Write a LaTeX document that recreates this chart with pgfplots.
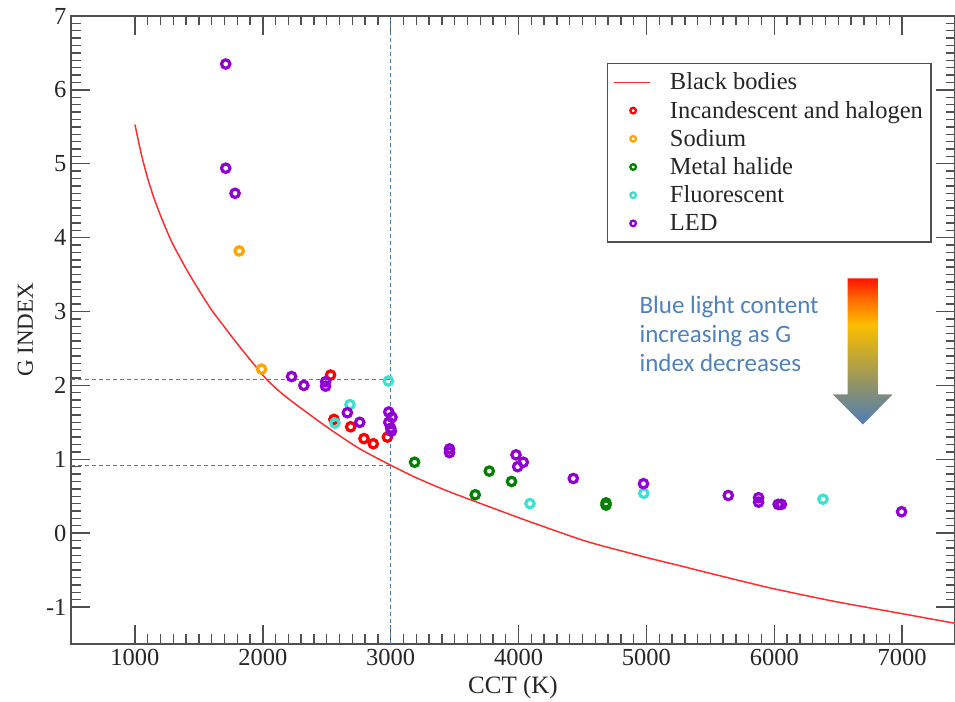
\documentclass[border=0pt]{standalone}
\usepackage{pgfplots}
\pgfplotsset{compat=1.18}
\usepackage{pgfplotstable}
\usetikzlibrary{calc}
\usepackage{fontspec}
\setmainfont{Liberation Serif}
\newfontfamily\carlito{Carlito}

\definecolor{dashblue}{RGB}{70,125,195}
\definecolor{frame}{RGB}{80,80,80}
\definecolor{bbred}{RGB}{255,45,45}
\definecolor{cInc}{RGB}{255,0,0}
\definecolor{cSod}{RGB}{255,165,0}
\definecolor{cMet}{RGB}{0,128,0}
\definecolor{cFlu}{RGB}{64,224,208}
\definecolor{cLED}{RGB}{145,0,210}
\definecolor{txtblue}{RGB}{79,129,189}

\definecolor{aBlue}{RGB}{80,125,185}
\definecolor{aGray}{RGB}{125,140,125}
\definecolor{aOlive}{RGB}{190,165,55}
\definecolor{aYellow}{RGB}{250,190,0}
\definecolor{aOrange}{RGB}{255,110,0}
\definecolor{aRed}{RGB}{255,20,0}

\pgfdeclareverticalshading{arrowshade}{100bp}{%
 color(0bp)=(aBlue);
 color(25bp)=(aBlue);
 color(35bp)=(aGray);
 color(47.5bp)=(aOlive);
 color(59bp)=(aYellow);
 color(67.5bp)=(aOrange);
 color(75bp)=(aRed);
 color(100bp)=(aRed)}

\pgfplotsset{
  bblegend/.style={legend image code/.code={\draw[##1] (0pt,0pt) -- (36pt,0pt);}},
  scatlegend/.style={legend image code/.code={\path[draw=none,fill=none] (0pt,0pt) -- (36pt,0pt);\draw[##1, mark size=2.8pt, line width=2.3pt] plot coordinates {(19pt,0pt)};}},
  scat/.style={only marks, mark=o, mark size=4.2pt, line width=3.2pt, color=#1, scatlegend},
}

\pgfplotstableread{
x y
1000 5.53
1050 5.13
1100 4.80
1150 4.53
1200 4.30
1250 4.09
1300 3.90
1400 3.58
1500 3.29
1600 3.02
1700 2.79
1800 2.565
1900 2.35
2020 2.10
2112 1.945
2230 1.78
2490 1.45
2750 1.15
3000 0.92
3200 0.75
3430 0.58
3690 0.41
4080 0.16
4475 -0.08
4630 -0.16
4870 -0.27
5000 -0.33
5260 -0.44
5420 -0.51
5700 -0.63
5990 -0.75
6460 -0.92
7000 -1.09
7413 -1.22
}\blackbody

\pgfplotstableread{
x y
2530 2.14
2556 1.54
2687 1.44
2791 1.28
2864 1.21
2974 1.30
}\incand

\pgfplotstableread{
x y
1815 3.82
1990 2.22
}\sodium

\pgfplotstableread{
x y
3187 0.96
3771 0.84
3661 0.52
3945 0.70
4684 0.41
4684 0.38
}\metal

\pgfplotstableread{
x y
2982 2.06
2682 1.74
2564 1.49
4089 0.40
4979 0.54
6381 0.46
}\fluor

\pgfplotstableread{
x y
1710 6.35
1710 4.94
1783 4.60
2225 2.12
2321 2.00
2491 1.99
2491 2.05
2661 1.63
2758 1.50
2985 1.64
3010 1.57
2985 1.50
3000 1.42
3005 1.38
3460 1.09
3460 1.14
3980 1.06
4037 0.96
3993 0.90
4428 0.74
4977 0.67
5640 0.51
5877 0.42
5877 0.48
6030 0.39
6055 0.39
6995 0.29
}\led

\begin{document}
\begin{tikzpicture}
\begin{axis}[
  scale only axis,
  width=884pt, height=628pt,
  xmin=500, xmax=7413, ymin=-1.5, ymax=7,
  axis line style={frame, line width=1.6pt},
  tick align=inside,
  /pgf/number format/assume math mode=true,
  /pgf/number format/1000 sep={},
  xtick={1000,2000,3000,4000,5000,6000,7000},
  ytick={-1,0,1,2,3,4,5,6,7},
  xticklabel={\textrm{\fontsize{24.5}{28}\selectfont\pgfmathprintnumber[assume math mode=true]{\tick}}},
  yticklabel={\textrm{\fontsize{24.5}{28}\selectfont\pgfmathprintnumber[assume math mode=true]{\tick}}},
  minor x tick num=9, minor y tick num=9,
  major tick length=19pt, minor tick length=9.5pt,
  every tick/.style={frame, line width=1.4pt},
  tick label style={font=\fontsize{24.5}{28}\selectfont, text=black!85},
  xticklabel style={yshift=-2pt},
  yticklabel style={xshift=-1pt},
  xlabel={CCT (K)}, ylabel={G INDEX},
  xlabel style={font=\fontsize{25}{28}\selectfont, text=black!85, yshift=-3pt},
  ylabel style={font=\fontsize{23}{28}\selectfont, text=black!85, yshift=6pt},
  clip=false,
  legend cell align=left,
  legend style={at={(rel axis cs:0.606,0.925)}, anchor=north west,
    draw=frame, line width=1.4pt, inner xsep=6pt, inner ysep=4.5pt,
    font=\fontsize{24.5}{28}\selectfont, row sep=0pt, column sep=17pt,
    nodes={text=black!85, text height=19pt, text depth=4pt, inner ysep=2.6pt}},
]
\addplot[dashblue, line width=1.2pt, dash pattern=on 4pt off 3pt, forget plot] coordinates {(500,2.08) (3000,2.08)};
\addplot[dashblue, line width=1.2pt, dash pattern=on 4pt off 3pt, forget plot] coordinates {(500,0.92) (3000,0.92)};
\addplot[dashblue, line width=1.2pt, dash pattern=on 4pt off 3pt, forget plot] coordinates {(3000,-1.5) (3000,7)};

\addplot[bbred, line width=1.5pt, no markers, smooth, tension=0.4, bblegend] table[x=x,y=y] {\blackbody};
\addlegendentry{Black bodies}

\addplot[scat=cInc] table[x=x,y=y] {\incand};
\addlegendentry{Incandescent and halogen}
\addplot[scat=cSod] table[x=x,y=y] {\sodium};
\addlegendentry{Sodium}
\addplot[scat=cMet] table[x=x,y=y] {\metal};
\addlegendentry{Metal halide}
\addplot[scat=cFlu] table[x=x,y=y] {\fluor};
\addlegendentry{Fluorescent}
\addplot[scat=cLED] table[x=x,y=y] {\led};
\addlegendentry{LED}

\shade[shading=arrowshade] (axis cs:6574,3.45) -- (axis cs:6809,3.45) -- (axis cs:6809,1.88) -- (axis cs:6927,1.88) -- (axis cs:6692,1.47) -- (axis cs:6457,1.88) -- (axis cs:6574,1.88) -- cycle;
\node[anchor=north west, align=left, inner sep=0pt, text=txtblue,
  font=\carlito\fontsize{25}{29}\selectfont] at (axis cs:4945,3.21)
  {Blue light content\\increasing as G\\index decreases};

\coordinate (sw) at (rel axis cs:0,0);
\coordinate (ne) at (rel axis cs:1,1);
\end{axis}
\pgfresetboundingbox
\path ($(sw)+(-71pt,-58pt)$) rectangle ($(ne)+(0pt,16pt)$);
\end{tikzpicture}
\end{document}
